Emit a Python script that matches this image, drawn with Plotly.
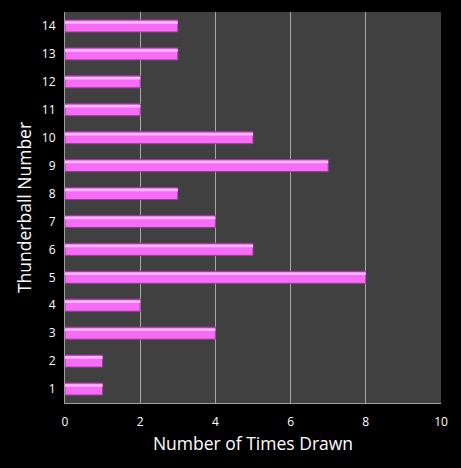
import plotly.graph_objects as go

numbers = ["1", "2", "3", "4", "5", "6", "7", "8", "9", "10", "11", "12", "13", "14"]
times_drawn = [1, 1, 4, 2, 8, 5, 4, 3, 7, 5, 2, 2, 3, 3]
x_ticks = [0, 2, 4, 6, 8, 10]

fig = go.Figure()
fig.add_trace(go.Bar(
    y=numbers, x=times_drawn, orientation="h", width=0.43,
    marker=dict(color="#f66cf6", line=dict(color="#9a3a9a", width=1)),
    hoverinfo="x+y", showlegend=False,
))
fig.add_trace(go.Bar(
    y=numbers, x=times_drawn, orientation="h", width=0.09, offset=0.08,
    marker=dict(color="#ffb8ff", line=dict(width=0)),
    hoverinfo="skip", showlegend=False,
))

fig.update_layout(
    width=461, height=468,
    margin=dict(l=65, r=20, t=12, b=65),
    paper_bgcolor="#000000", plot_bgcolor="#404040",
    barmode="overlay",
    font=dict(family="Open Sans", color="#ffffff", size=12),
    xaxis=dict(
        range=[0, 10], tickvals=x_ticks, ticktext=[str(v) for v in x_ticks],
        showgrid=True, gridcolor="#a8a8a8", gridwidth=1,
        showline=True, linecolor="#a0a0a0", linewidth=1, zeroline=False,
        ticks="outside", ticklen=8, tickcolor="rgba(0,0,0,0)",
        title=dict(text="Number of Times Drawn", font=dict(size=17.5), standoff=8),
        tickfont=dict(size=12),
    ),
    yaxis=dict(
        type="category", categoryorder="array", categoryarray=numbers,
        range=[-0.5, 13.5],
        showgrid=False, showline=True, linecolor="#a0a0a0", linewidth=1,
        ticks="outside", ticklen=6, tickcolor="rgba(0,0,0,0)",
        title=dict(text="Thunderball Number", font=dict(size=17.5), standoff=5),
        tickfont=dict(size=12),
    ),
)

fig.write_html("out.html", post_script="document.body.style.margin='0';",
               config={"displayModeBar": False})
